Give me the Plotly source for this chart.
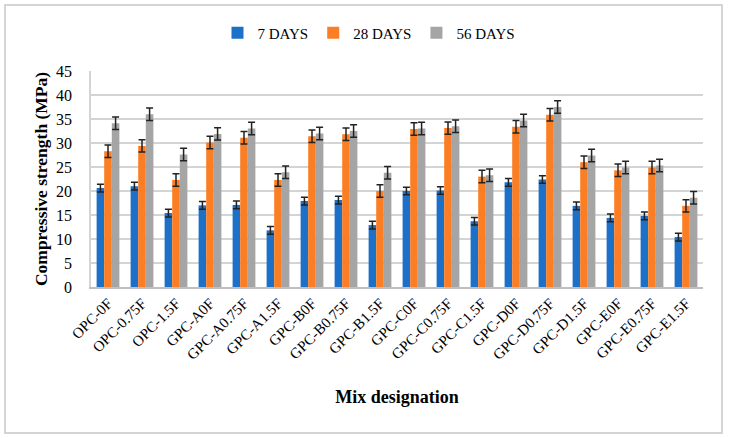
import plotly.graph_objects as go

categories = ["OPC-0F", "OPC-0.75F", "OPC-1.5F", "GPC-A0F", "GPC-A0.75F", "GPC-A1.5F",
              "GPC-B0F", "GPC-B0.75F", "GPC-B1.5F", "GPC-C0F", "GPC-C0.75F", "GPC-C1.5F",
              "GPC-D0F", "GPC-D0.75F", "GPC-D1.5F", "GPC-E0F", "GPC-E0.75F", "GPC-E1.5F"]
days7 = [20.6, 21.0, 15.4, 17.0, 17.1, 11.8, 17.9, 18.1, 12.9, 20.0, 20.1, 13.7,
         21.8, 22.4, 16.9, 14.4, 14.8, 10.4]
days28 = [28.3, 29.4, 22.3, 30.1, 31.1, 22.3, 31.4, 31.8, 20.0, 32.9, 33.1, 23.0,
          33.4, 35.9, 26.0, 24.3, 24.9, 16.9]
days56 = [34.1, 36.0, 27.6, 31.9, 33.0, 23.9, 32.0, 32.5, 23.8, 33.0, 33.5, 23.3,
          34.7, 37.5, 27.4, 24.9, 25.3, 18.6]
err7 = [0.8] * 18
err28 = [1.3] * 18
err56 = [1.3] * 18
series_names = ["7 DAYS", "28 DAYS", "56 DAYS"]
colors = ["#1C70C8", "#FB7E24", "#A5A5A5"]

FONT = "Liberation Serif"
fig = go.Figure()
for name, vals, errs, col in zip(series_names, [days7, days28, days56], [err7, err28, err56], colors):
    fig.add_trace(go.Bar(
        x=categories, y=vals, name=name, marker=dict(color=col, line=dict(width=0)),
        error_y=dict(type="data", array=errs, visible=True, color="#222222", thickness=1.5, width=3.5),
    ))

W, H = 730, 438
L, R, T, B = 91, 27, 71, 151
pw, ph = W - L - R, H - T - B

def px(x):
    return (x - L) / pw

def py(y):
    return (H - B - y) / ph

fig.add_shape(type="rect", xref="paper", yref="paper",
              x0=px(5), x1=px(722), y0=py(433), y1=py(5),
              line=dict(color="#C8C8C8", width=1.5), fillcolor="rgba(0,0,0,0)", layer="below")

fig.update_layout(
    width=W, height=H,
    margin=dict(l=L, r=R, t=T, b=B, autoexpand=False),
    paper_bgcolor="white", plot_bgcolor="white",
    barmode="group", bargap=0.33, bargroupgap=0,
    font=dict(family=FONT, color="#000000", size=15),
    legend=dict(orientation="h", x=px(369), xanchor="center", y=py(33), yanchor="middle",
                font=dict(family=FONT, size=15), itemwidth=30, traceorder="normal",
                itemclick=False),
    xaxis=dict(tickangle=-45, tickfont=dict(family=FONT, size=15), showline=True,
               linecolor="#BFBFBF", linewidth=1.5, ticks="", automargin=False,
               title=dict(text="<b>Mix designation</b>", font=dict(family=FONT, size=18), standoff=28)),
    yaxis=dict(range=[0, 45], dtick=5, showgrid=True, gridcolor="#D4D4D4", gridwidth=1.5,
               showline=True, linecolor="#D4D4D4", linewidth=1.5, zeroline=False, ticks="",
               tickfont=dict(family=FONT, size=16), ticklabelstandoff=14, automargin=False,
               title=dict(text="<b>Compressive strength (MPa)</b>", font=dict(family=FONT, size=17.5), standoff=4)),
)
fig.write_html("out.html", config={"displayModeBar": False},
               post_script="document.body.style.margin='0';document.body.style.padding='0';")
